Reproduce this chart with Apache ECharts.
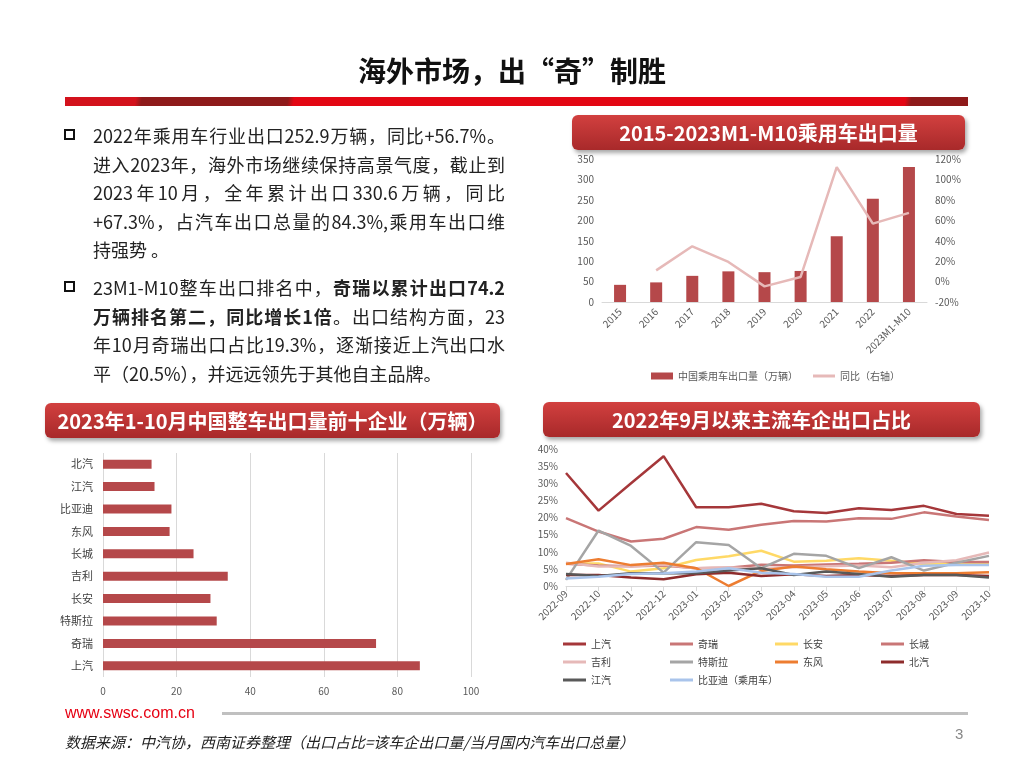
<!DOCTYPE html>
<html><head><meta charset="utf-8">
<script src="https://cdn.jsdelivr.net/npm/echarts/dist/echarts.min.js"></script>
<style>
html,body{margin:0;padding:0;background:#fff;}
#page{position:relative;width:1024px;height:768px;overflow:hidden;font-family:"Noto Sans CJK SC","Noto Sans",sans-serif;color:#222;}
#chart{position:absolute;left:0;top:0;width:1024px;height:768px;}
.abs{position:absolute;}
#title{left:0;width:1024px;top:50px;text-align:center;font-size:28px;font-weight:700;color:#111;line-height:40px;}
#band{left:65px;top:97px;width:903px;height:9px;
 background:linear-gradient(100deg,#d3121c 0px,#d3121c 70px,#8e1a1a 76px,#8e1a1a 220px,#e30613 226px,#e30613 828px,#8e1a1a 834px,#8e1a1a 903px);}
.hdr{border-radius:6px;background:linear-gradient(#d2403f,#a8292a);box-shadow:2px 3px 4px rgba(0,0,0,0.35);color:#fff;font-weight:700;font-size:20px;text-align:center;line-height:35px;height:35px;white-space:nowrap;}
.txt{left:93px;width:412px;font-size:18px;line-height:28.5px;color:#222;}
.ln{display:block;text-align:justify;text-align-last:justify;white-space:nowrap;}
.ln.last{text-align-last:left;}
.bul{width:7px;height:7px;border:2.5px solid #111;}
#www{left:65px;top:704px;font-family:Arial,"Liberation Sans",sans-serif;font-size:16px;color:#e60012;}
#fline{left:222px;top:712px;width:746px;height:3px;background:#c0c0c0;}
#src{left:65px;top:731px;font-size:15px;font-style:italic;color:#222;}
#pg{left:955px;top:725px;font-size:15px;color:#888;font-family:Arial,"Liberation Sans",sans-serif;}
</style></head>
<body><div id="page">
<div id="chart"></div>
<div id="title" class="abs">海外市场，出“奇”制胜</div>
<div id="band" class="abs"></div>
<div class="abs hdr" style="left:572px;top:115px;width:393px;">2015-2023M1-M10乘用车出口量</div>
<div class="abs hdr" style="left:45px;top:403px;width:455px;">2023年1-10月中国整车出口量前十企业（万辆）</div>
<div class="abs hdr" style="left:543px;top:402px;width:437px;">2022年9月以来主流车企出口占比</div>
<div class="abs bul" style="left:64px;top:129px;"></div>
<div class="abs bul" style="left:64px;top:281px;"></div>
<div class="abs txt" style="top:121px;">
<span class="ln">2022年乘用车行业出口252.9万辆，同比+56.7%。</span>
<span class="ln">进入2023年，海外市场继续保持高景气度，截止到</span>
<span class="ln">2023年10月，全年累计出口330.6万辆，同比</span>
<span class="ln">+67.3%，占汽车出口总量的84.3%,乘用车出口维</span>
<span class="ln last">持强势 。</span>
</div>
<div class="abs txt" style="top:273px;">
<span class="ln">23M1-M10整车出口排名中，<b>奇瑞以累计出口74.2</b></span>
<span class="ln"><b>万辆排名第二，同比增长1倍</b>。出口结构方面，23</span>
<span class="ln">年10月奇瑞出口占比19.3%，逐渐接近上汽出口水</span>
<span class="ln last">平（20.5%），并远远领先于其他自主品牌。</span>
</div>
<div id="www" class="abs">www.swsc.com.cn</div>
<div id="fline" class="abs"></div>
<div id="src" class="abs">数据来源：中汽协，西南证券整理（出口占比=该车企出口量/当月国内汽车出口总量）</div>
<div id="pg" class="abs">3</div>
</div>
<script>
// ---- Chart 1: 2015-2023M1-M10 passenger car exports ----
const exportYears = ['2015','2016','2017','2018','2019','2020','2021','2022','2023M1-M10'];
const exportVolume = [42, 48, 64, 75, 73, 76, 161, 252.9, 330.6];
const exportYoY = [null, 11, 34.5, 19.2, -4.7, 4.5, 112, 56.7, 67.3];

// ---- Chart 2: top-10 exporters 2023 Jan-Oct ----
const topCompanies = ['上汽','奇瑞','特斯拉','长安','吉利','长城','东风','比亚迪','江汽','北汽'];
const topVolumes = [86.1, 74.2, 30.9, 29.2, 33.9, 24.6, 18.1, 18.6, 14.0, 13.2];

// ---- Chart 3: export share by maker (%) ----
const months = ['2022-09','2022-10','2022-11','2022-12','2023-01','2023-02','2023-03','2023-04','2023-05','2023-06','2023-07','2023-08','2023-09','2023-10'];
const shareSAIC    = [33, 22, 30, 37.9, 23, 23, 24, 21.8, 21.3, 22.7, 22.2, 23.4, 21, 20.5];
const shareChery   = [19.8, 15.9, 13, 13.8, 17.2, 16.4, 17.9, 19, 18.8, 19.8, 19.6, 21.5, 20.3, 19.3];
const shareChangan = [6.6, 6.6, 4.2, 5.2, 7.6, 8.7, 10.3, 7.1, 7.4, 8.1, 7.4, 6.4, 6.6, 6.5];
const shareGWM     = [6.5, 6.0, 5.8, 6.0, 5.2, 5.3, 6.2, 6.0, 6.3, 6.5, 6.8, 7.5, 7.0, 7.0];
const shareGeely   = [6.8, 5.7, 5.8, 6.2, 5.2, 5.5, 5.0, 5.5, 5.8, 6.0, 5.5, 6.8, 7.5, 9.8];
const shareTesla   = [1.8, 16.2, 11.7, 3.9, 12.8, 12.0, 5.2, 9.4, 8.8, 5.2, 8.4, 4.5, 6.8, 8.8];
const shareDongfeng= [6.4, 7.8, 6.1, 6.8, 5.2, 0, 4.4, 5.7, 4.9, 4.2, 3.7, 3.7, 3.7, 4.0];
const shareBAIC    = [3.2, 3.2, 2.5, 2.0, 3.4, 3.9, 2.9, 3.4, 2.9, 3.2, 2.9, 3.2, 3.2, 2.9];
const shareJAC     = [3.5, 2.9, 3.7, 3.7, 3.7, 4.5, 5.2, 3.2, 4.2, 3.5, 2.7, 3.2, 3.2, 2.5];
const shareBYD     = [2.2, 2.7, 3.5, 3.7, 4.2, 5.2, 3.9, 3.5, 2.7, 2.7, 4.5, 5.9, 6.1, 6.1];

const shareNames = ['上汽','奇瑞','长安','长城','吉利','特斯拉','东风','北汽','江汽','比亚迪（乘用车）'];
const shareData = [shareSAIC, shareChery, shareChangan, shareGWM, shareGeely, shareTesla, shareDongfeng, shareBAIC, shareJAC, shareBYD];
const shareColors = ['#a5373a','#c97676','#ffd966','#c97676','#e6b9b8','#a5a5a5','#ed7d31','#8e2c2c','#595959','#a9c4eb'];

const FONT = '"Noto Sans CJK SC","Noto Sans",sans-serif';
const barColor = '#b5484a';
const axisLbl = {fontSize: 10, color: '#595959', fontFamily: FONT};

function colLegend(names, left) {
  return {data: names.map(n => ({name: n, icon: 'rect'})), orient: 'vertical', left: left, top: 634,
    itemGap: 8, itemWidth: 23, itemHeight: 3, textStyle: {fontSize: 10, color: '#404040'}};
}

const chart = echarts.init(document.getElementById('chart'));
const option = {
  backgroundColor: '#fff',
  animation: false,
  textStyle: {fontFamily: FONT},
  grid: [
    {left: 602, top: 159, width: 325, height: 143},
    {left: 103, top: 453, width: 368, height: 224},
    {left: 566, top: 449, width: 423, height: 137}
  ],
  legend: [
    {data: [{name: '中国乘用车出口量（万辆）', icon: 'rect'}], left: 646, top: 366,
     itemWidth: 22, itemHeight: 7, textStyle: {fontSize: 10, color: '#595959'}},
    {data: [{name: '同比（右轴）', icon: 'rect'}], left: 808, top: 366,
     itemWidth: 22, itemHeight: 3, textStyle: {fontSize: 10, color: '#595959'}},
    colLegend(['上汽','吉利','江汽'], 558),
    colLegend(['奇瑞','特斯拉','比亚迪（乘用车）'], 665),
    colLegend(['长安','东风'], 770),
    colLegend(['长城','北汽'], 876)
  ],
  xAxis: [
    {gridIndex: 0, type: 'category', data: exportYears,
     axisLine: {lineStyle: {color: '#d9d9d9'}}, axisTick: {show: false},
     axisLabel: Object.assign({rotate: 45, margin: 8}, axisLbl)},
    {gridIndex: 1, type: 'value', min: 0, max: 100, interval: 20,
     axisLine: {show: false}, axisTick: {show: false},
     splitLine: {lineStyle: {color: '#d9d9d9'}},
     axisLabel: Object.assign({margin: 9}, axisLbl)},
    {gridIndex: 2, type: 'category', data: months, boundaryGap: false,
     axisLine: {lineStyle: {color: '#d9d9d9'}}, axisTick: {show: true, lineStyle: {color: '#d9d9d9'}},
     axisLabel: Object.assign({rotate: 45, margin: 6, interval: 0}, axisLbl)}
  ],
  yAxis: [
    {gridIndex: 0, type: 'value', min: 0, max: 350, interval: 50,
     axisLine: {show: false}, axisTick: {show: false}, splitLine: {show: false},
     axisLabel: axisLbl},
    {gridIndex: 0, type: 'value', min: -20, max: 120, interval: 20, position: 'right',
     axisLine: {show: false}, axisTick: {show: false}, splitLine: {show: false},
     axisLabel: Object.assign({formatter: '{value}%'}, axisLbl)},
    {gridIndex: 1, type: 'category', data: topCompanies,
     axisLine: {show: false}, axisTick: {show: false},
     axisLabel: {fontSize: 11, color: '#404040', margin: 10, fontFamily: FONT}},
    {gridIndex: 2, type: 'value', min: 0, max: 40, interval: 5,
     axisLine: {show: false}, axisTick: {show: false}, splitLine: {show: false},
     axisLabel: Object.assign({formatter: '{value}%'}, axisLbl)}
  ],
  series: [
    {name: '中国乘用车出口量（万辆）', type: 'bar', xAxisIndex: 0, yAxisIndex: 0,
     data: exportVolume, barWidth: 12, itemStyle: {color: barColor}},
    {name: '同比（右轴）', type: 'line', xAxisIndex: 0, yAxisIndex: 1,
     data: exportYoY, showSymbol: false, symbol: 'none', lineStyle: {color: '#e6b9b8', width: 2.5},
     itemStyle: {color: '#e6b9b8'}},
    {name: '出口量', type: 'bar', xAxisIndex: 1, yAxisIndex: 2,
     data: topVolumes, barWidth: 9, itemStyle: {color: barColor}}
  ].concat(shareNames.map((n, i) => ({
    name: n, type: 'line', xAxisIndex: 2, yAxisIndex: 3, data: shareData[i],
    symbol: 'none', lineStyle: {color: shareColors[i], width: 2.5}, itemStyle: {color: shareColors[i]}
  })))
};
chart.setOption(option);
</script>
</body></html>
